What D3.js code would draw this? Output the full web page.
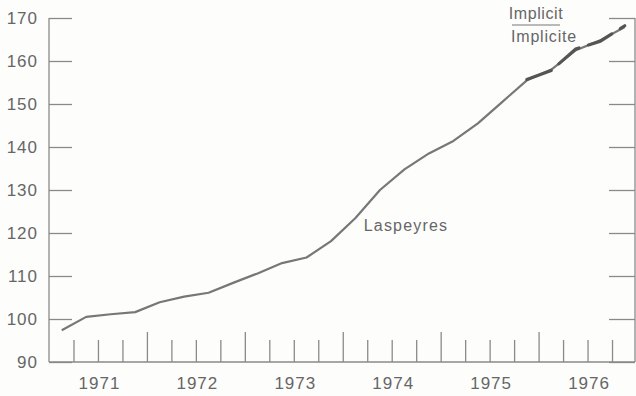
<!DOCTYPE html>
<html>
<head>
<meta charset="utf-8">
<script src="https://cdn.jsdelivr.net/npm/d3@7"></script>
<style>
  html, body { margin: 0; padding: 0; background: #fdfdfc; }
  svg { display: block; }
  text { font-family: "Liberation Sans", Arial, sans-serif; fill: #666; }
</style>
</head>
<body>
<svg id="chart" width="636" height="396"></svg>
<script>
// Quarterly price index, plotted at mid-quarter
const quarters = [
  "1971Q1","1971Q2","1971Q3","1971Q4",
  "1972Q1","1972Q2","1972Q3","1972Q4",
  "1973Q1","1973Q2","1973Q3","1973Q4",
  "1974Q1","1974Q2","1974Q3","1974Q4",
  "1975Q1","1975Q2","1975Q3","1975Q4",
  "1976Q1","1976Q2","1976Q3","1976Q4"
];
const laspeyres = [
  97.4, 100.5, 101.1, 101.6,
  103.9, 105.2, 106.1, 108.4,
  110.6, 113.0, 114.3, 118.1,
  123.5, 130.0, 134.8, 138.5,
  141.4, 145.5, 150.5, 155.5,
  158.0, 162.5, 164.8, 167.9
];
// Implicit index, drawn over the last quarters
const implicitQuarters = ["1975Q4","1976Q1","1976Q2","1976Q3","1976Q4"];
const implicit = [155.7, 157.8, 162.8, 164.6, 168.2];

const yTicks = [90, 100, 110, 120, 130, 140, 150, 160, 170];
const yearLabels = ["1971", "1972", "1973", "1974", "1975", "1976"];

const svg = d3.select("#chart");
const M = { left: 49, right: 635, top: 18, bottom: 362 };

const x = d3.scaleLinear().domain([1971, 1977]).range([49.5, 637]);
const y = d3.scaleLinear().domain([90, 170]).range([M.bottom, M.top]);

const qTime = q => +q.slice(0, 4) + (+q.slice(5) - 1) / 4 + 0.125;

const axisColor = "#8a8a8a";

// Left axis: ticks pointing inward
const yLeft = d3.axisRight(y).tickValues(yTicks).tickSize(23).tickFormat("");
const gl = svg.append("g").attr("transform", `translate(${M.left},0)`).call(yLeft);
gl.select(".domain").remove();
gl.selectAll("line").attr("stroke", axisColor).attr("stroke-width", 1.3);
svg.append("line").attr("x1", M.left).attr("x2", M.left).attr("y1", M.top).attr("y2", M.bottom)
  .attr("stroke", axisColor).attr("stroke-width", 1.3);

// Right axis: ticks pointing inward
const yRight = d3.axisLeft(y).tickValues(yTicks).tickSize(26).tickFormat("");
const gr = svg.append("g").attr("transform", `translate(${M.right},0)`).call(yRight);
gr.select(".domain").remove();
gr.selectAll("line").attr("stroke", axisColor).attr("stroke-width", 1.3);
svg.append("line").attr("x1", M.right).attr("x2", M.right).attr("y1", M.top).attr("y2", M.bottom)
  .attr("stroke", axisColor).attr("stroke-width", 1.3);

// Y labels
svg.append("g").selectAll("text").data(yTicks).join("text")
  .attr("x", 38).attr("y", d => y(d) + 6)
  .attr("text-anchor", "end")
  .attr("font-size", 17).attr("letter-spacing", 1)
  .text(d => d);

// Bottom axis with quarterly ticks, longer at year boundaries
svg.append("line").attr("x1", M.left).attr("x2", M.right).attr("y1", M.bottom).attr("y2", M.bottom)
  .attr("stroke", axisColor).attr("stroke-width", 1.3);
const qTicks = d3.range(1971.25, 1976.9, 0.25);
svg.append("g").selectAll("line").data(qTicks).join("line")
  .attr("x1", d => x(d)).attr("x2", d => x(d))
  .attr("y1", M.bottom)
  .attr("y2", d => Math.abs(d - Math.round(d)) < 1e-6 ? M.bottom - 30 : M.bottom - 22)
  .attr("stroke", axisColor).attr("stroke-width", 1.3);

svg.append("g").selectAll("text").data(yearLabels).join("text")
  .attr("x", d => x(+d + 0.5) + 1)
  .attr("y", 389)
  .attr("text-anchor", "middle")
  .attr("font-size", 17).attr("letter-spacing", 1)
  .text(d => d);

// Laspeyres series
const line = d3.line().x(d => x(d.t)).y(d => y(d.v));
const lasData = quarters.map((q, i) => ({ t: qTime(q), v: laspeyres[i] }));
svg.append("path").datum(lasData).attr("d", line)
  .attr("fill", "none").attr("stroke", "#777").attr("stroke-width", 2.2)
  .attr("stroke-linejoin", "round");

// Implicit series
const impData = implicitQuarters.map((q, i) => ({ t: qTime(q), v: implicit[i] }));
svg.append("path").datum(impData).attr("d", line)
  .attr("fill", "none").attr("stroke", "#555").attr("stroke-width", 3.2)
  .attr("stroke-dasharray", "26,10").attr("stroke-linecap", "round");

// Series labels
svg.append("text").attr("x", 406).attr("y", 231).attr("text-anchor", "middle")
  .attr("font-size", 16).attr("letter-spacing", 1.2).text("Laspeyres");

svg.append("text").attr("x", 536).attr("y", 19).attr("text-anchor", "middle")
  .attr("font-size", 16).attr("letter-spacing", 0.6).text("Implicit");
svg.append("line").attr("x1", 512).attr("x2", 560).attr("y1", 25).attr("y2", 25)
  .attr("stroke", "#777").attr("stroke-width", 1);
svg.append("text").attr("x", 544).attr("y", 42).attr("text-anchor", "middle")
  .attr("font-size", 16).attr("letter-spacing", 0.8).text("Implicite");
</script>
</body>
</html>
